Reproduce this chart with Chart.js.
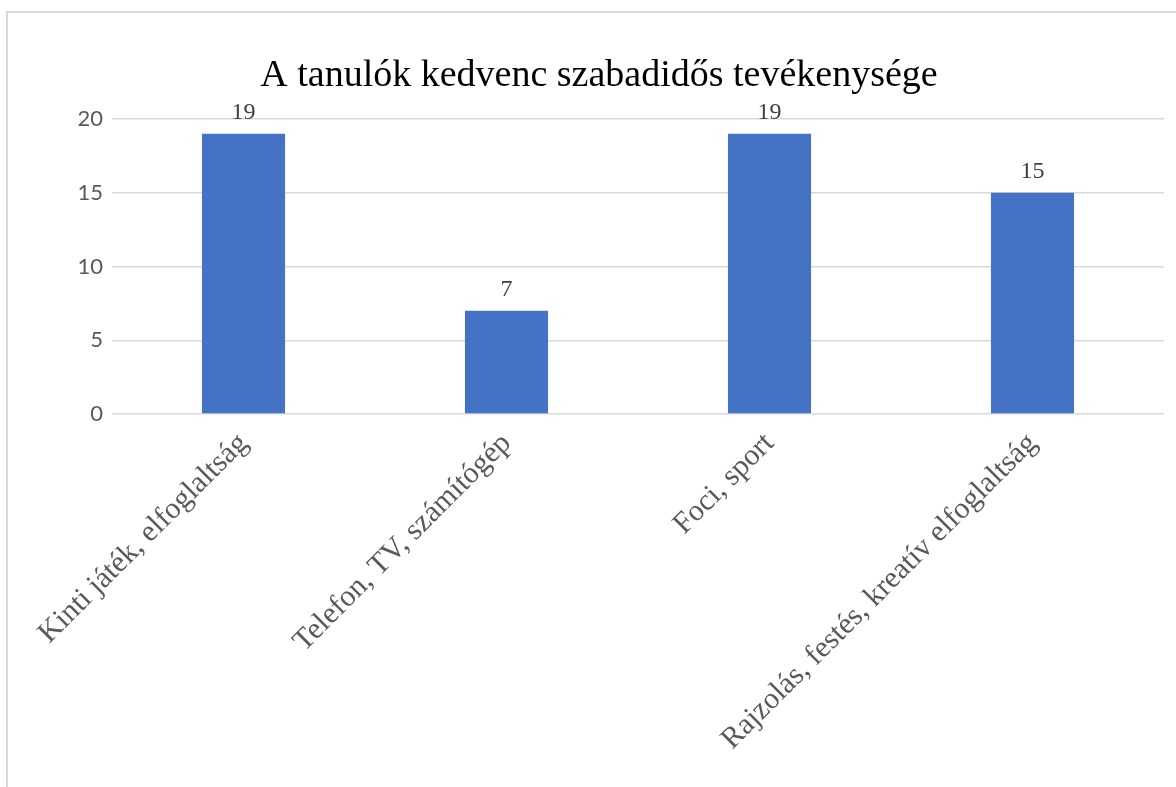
<!DOCTYPE html>
<html>
<head>
<meta charset="utf-8">
<script src="https://cdn.jsdelivr.net/npm/chart.js@4"></script>
<style>
  html, body { margin: 0; padding: 0; background: #fff; overflow: hidden; }
  #frame { position: absolute; left: 6px; top: 11px; width: 1200px; height: 800px; border: 2px solid #d9d9d9; }
  #wrap { position: absolute; left: 0; top: 0; width: 1176px; height: 787px; }
</style>
</head>
<body>
<div id="frame"></div>
<div id="wrap"><canvas id="chart1"></canvas></div>
<script>
var categories = ['Kinti játék, elfoglaltság', 'Telefon, TV, számítógép', 'Foci, sport', 'Rajzolás, festés, kreatív elfoglaltság'];
var values = [19, 7, 19, 15];
var yTicks = [0, 5, 10, 15, 20];

// value labels above the bars
var barLabels = {
    id: 'barLabels',
    afterDatasetsDraw: function (chart) {
        var ctx = chart.ctx;
        var meta = chart.getDatasetMeta(0);
        ctx.save();
        ctx.font = '24px "Liberation Serif", "Times New Roman", serif';
        ctx.fillStyle = '#404040';
        ctx.textAlign = 'center';
        ctx.textBaseline = 'bottom';
        meta.data.forEach(function (bar, i) {
            ctx.fillText(String(values[i]), bar.x, bar.y - 9);
        });
        ctx.restore();
    }
};

window.onload = function () {
    new Chart(document.getElementById('chart1'), {
        type: 'bar',
        data: {
            labels: categories,
            datasets: [{
                data: values,
                backgroundColor: '#4472c4',
                barPercentage: 1,
                categoryPercentage: 0.316
            }]
        },
        options: {
            responsive: true,
            maintainAspectRatio: false,
            animation: false,
            layout: { padding: { left: 34, right: 12, top: 0, bottom: 0 } },
            plugins: {
                legend: { display: false },
                tooltip: { enabled: false },
                title: {
                    display: true,
                    text: 'A tanulók kedvenc szabadidős tevékenysége',
                    color: '#000',
                    font: { family: '"Liberation Serif", "Times New Roman", serif', size: 38, weight: 'normal', lineHeight: 1.2 },
                    padding: { top: 53, bottom: 20.4 }
                }
            },
            scales: {
                x: {
                    grid: { display: false },
                    border: { display: false },
                    afterFit: function (s) { s.height = 373; },
                    ticks: {
                        minRotation: 45,
                        maxRotation: 45,
                        color: '#595959',
                        padding: 4,
                        font: { family: '"Liberation Serif", "Times New Roman", serif', size: 30 }
                    }
                },
                y: {
                    min: 0,
                    max: 20,
                    afterFit: function (s) { s.width = 78; },
                    afterBuildTicks: function (s) { s.ticks = yTicks.map(function (v) { return { value: v }; }); },
                    border: { display: false },
                    grid: { color: '#d9d9d9', lineWidth: 1.5, drawTicks: false },
                    ticks: {
                        color: '#595959',
                        padding: 9,
                        font: { family: 'Lato, "Liberation Sans", sans-serif', size: 22 }
                    }
                }
            }
        },
        plugins: [barLabels]
    });
};
</script>
</body>
</html>
